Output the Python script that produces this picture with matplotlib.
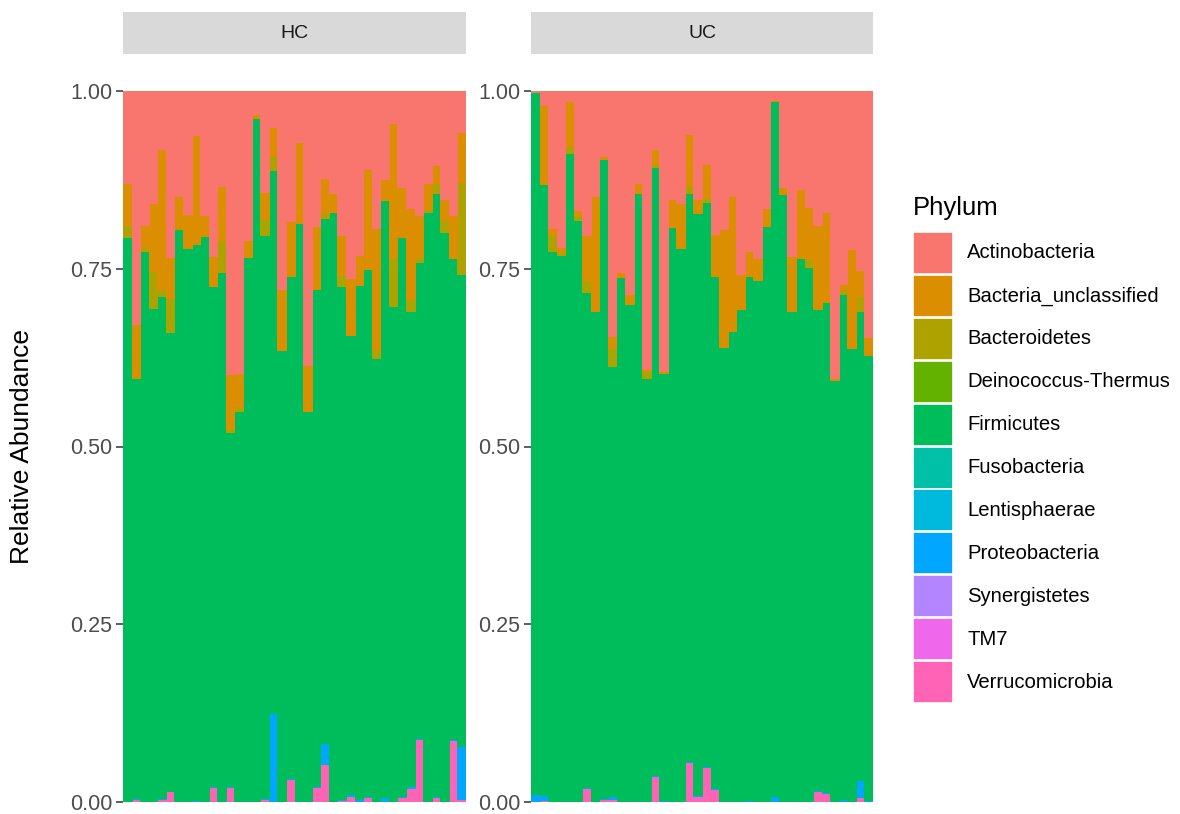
"""Stacked relative-abundance bars per sample, faceted by group (HC / UC)."""

import matplotlib.pyplot as plt
import numpy as np
from matplotlib.patches import Rectangle

plt.rcParams["font.family"] = ["Liberation Sans", "DejaVu Sans"]

PHYLA = [
    "Actinobacteria",
    "Bacteria_unclassified",
    "Bacteroidetes",
    "Deinococcus-Thermus",
    "Firmicutes",
    "Fusobacteria",
    "Lentisphaerae",
    "Proteobacteria",
    "Synergistetes",
    "TM7",
    "Verrucomicrobia",
]

# ggplot2 default hue palette for 11 levels
COLORS = [
    "#F8766D", "#DB8E00", "#AEA200", "#64B200", "#00BD5C", "#00C1A7",
    "#00BADE", "#00A6FF", "#B385FF", "#EF67EB", "#FF63B6",
]

# ---- HC samples (40) ----
hc_actino = [
    0.129, 0.328, 0.188, 0.157, 0.081, 0.233, 0.148, 0.173, 0.062, 0.174,
    0.232, 0.134, 0.398, 0.396, 0.210, 0.033, 0.142, 0.051, 0.278, 0.183,
    0.072, 0.385, 0.190, 0.122, 0.144, 0.203, 0.263, 0.230, 0.110, 0.193,
    0.124, 0.045, 0.135, 0.164, 0.174, 0.130, 0.104, 0.152, 0.175, 0.058,
]
hc_bact_uncl = [
    0.059, 0.075, 0.032, 0.096, 0.197, 0.058, 0.044, 0.048, 0.153, 0.030,
    0.042, 0.076, 0.078, 0.048, 0.024, 0.005, 0.038, 0.039, 0.086, 0.077,
    0.113, 0.065, 0.088, 0.049, 0.026, 0.056, 0.080, 0.043, 0.141, 0.171,
    0.029, 0.190, 0.071, 0.128, 0.059, 0.036, 0.026, 0.029, 0.060, 0.070,
]
hc_bacteroidetes = [
    0.017, 0.000, 0.005, 0.052, 0.011, 0.048, 0.002, 0.000, 0.000, 0.000,
    0.000, 0.045, 0.004, 0.006, 0.000, 0.000, 0.023, 0.021, 0.000, 0.000,
    0.000, 0.000, 0.000, 0.007, 0.000, 0.015, 0.000, 0.000, 0.000, 0.012,
    0.000, 0.067, 0.000, 0.018, 0.007, 0.004, 0.014, 0.017, 0.000, 0.129,
]
hc_firmicutes = [
    0.793, 0.591, 0.773, 0.693, 0.705, 0.645, 0.804, 0.777, 0.782, 0.795,
    0.704, 0.743, 0.498, 0.548, 0.764, 0.960, 0.791, 0.764, 0.635, 0.706,
    0.813, 0.549, 0.700, 0.739, 0.829, 0.722, 0.646, 0.723, 0.741, 0.623,
    0.840, 0.696, 0.786, 0.668, 0.670, 0.829, 0.848, 0.801, 0.677, 0.664,
]
hc_proteo = [
    0.002, 0.002, 0.002, 0.002, 0.002, 0.001, 0.002, 0.002, 0.001, 0.001,
    0.001, 0.002, 0.001, 0.002, 0.002, 0.002, 0.002, 0.123, 0.001, 0.002,
    0.002, 0.001, 0.001, 0.029, 0.001, 0.001, 0.002, 0.002, 0.001, 0.001,
    0.006, 0.001, 0.001, 0.002, 0.002, 0.001, 0.001, 0.001, 0.001, 0.075,
]
hc_verruco = [
    0.000, 0.004, 0.000, 0.000, 0.004, 0.015, 0.000, 0.000, 0.002, 0.000,
    0.021, 0.000, 0.021, 0.000, 0.000, 0.000, 0.004, 0.002, 0.000, 0.032,
    0.000, 0.000, 0.021, 0.054, 0.000, 0.003, 0.009, 0.002, 0.007, 0.000,
    0.001, 0.001, 0.007, 0.020, 0.088, 0.000, 0.007, 0.000, 0.087, 0.004,
]

# ---- UC samples (40) ----
uc_actino = [
    0.001, 0.020, 0.192, 0.220, 0.014, 0.168, 0.203, 0.148, 0.092, 0.344,
    0.255, 0.286, 0.130, 0.391, 0.081, 0.394, 0.152, 0.157, 0.060, 0.152,
    0.102, 0.201, 0.194, 0.147, 0.258, 0.225, 0.235, 0.164, 0.012, 0.135,
    0.232, 0.138, 0.163, 0.188, 0.170, 0.403, 0.272, 0.222, 0.252, 0.346,
]
uc_bact_uncl = [
    0.001, 0.111, 0.011, 0.008, 0.064, 0.006, 0.063, 0.162, 0.004, 0.018,
    0.006, 0.013, 0.013, 0.003, 0.022, 0.003, 0.039, 0.064, 0.072, 0.020,
    0.047, 0.059, 0.166, 0.190, 0.048, 0.035, 0.031, 0.026, 0.002, 0.010,
    0.077, 0.097, 0.073, 0.118, 0.127, 0.003, 0.006, 0.140, 0.037, 0.026,
]
uc_bacteroidetes = [
    0.000, 0.000, 0.022, 0.003, 0.009, 0.008, 0.017, 0.000, 0.000, 0.025,
    0.000, 0.000, 0.000, 0.009, 0.004, 0.000, 0.000, 0.000, 0.011, 0.000,
    0.007, 0.000, 0.000, 0.000, 0.000, 0.000, 0.000, 0.000, 0.000, 0.000,
    0.000, 0.000, 0.011, 0.000, 0.000, 0.000, 0.008, 0.000, 0.020, 0.000,
]
uc_firmicutes = [
    0.987, 0.859, 0.773, 0.767, 0.912, 0.817, 0.696, 0.689, 0.898, 0.605,
    0.738, 0.700, 0.855, 0.595, 0.855, 0.600, 0.808, 0.777, 0.799, 0.818,
    0.793, 0.721, 0.638, 0.661, 0.693, 0.737, 0.732, 0.808, 0.977, 0.853,
    0.689, 0.763, 0.751, 0.677, 0.689, 0.592, 0.710, 0.637, 0.660, 0.625,
]
uc_proteo = [
    0.009, 0.007, 0.002, 0.002, 0.001, 0.001, 0.002, 0.001, 0.002, 0.004,
    0.001, 0.001, 0.001, 0.001, 0.001, 0.001, 0.001, 0.001, 0.002, 0.002,
    0.002, 0.001, 0.002, 0.002, 0.001, 0.001, 0.001, 0.001, 0.007, 0.002,
    0.002, 0.002, 0.002, 0.001, 0.002, 0.002, 0.003, 0.001, 0.024, 0.002,
]
uc_verruco = [
    0.002, 0.003, 0.000, 0.000, 0.000, 0.000, 0.019, 0.000, 0.004, 0.004,
    0.000, 0.000, 0.001, 0.001, 0.037, 0.002, 0.000, 0.001, 0.056, 0.008,
    0.049, 0.018, 0.000, 0.000, 0.000, 0.002, 0.001, 0.001, 0.002, 0.000,
    0.000, 0.000, 0.000, 0.016, 0.012, 0.000, 0.001, 0.000, 0.007, 0.001,
]

GROUPS = {
    "HC": {
        "Actinobacteria": hc_actino,
        "Bacteria_unclassified": hc_bact_uncl,
        "Bacteroidetes": hc_bacteroidetes,
        "Firmicutes": hc_firmicutes,
        "Proteobacteria": hc_proteo,
        "Verrucomicrobia": hc_verruco,
    },
    "UC": {
        "Actinobacteria": uc_actino,
        "Bacteria_unclassified": uc_bact_uncl,
        "Bacteroidetes": uc_bacteroidetes,
        "Firmicutes": uc_firmicutes,
        "Proteobacteria": uc_proteo,
        "Verrucomicrobia": uc_verruco,
    },
}

W, H = 1180, 814
fig = plt.figure(figsize=(W / 100, H / 100), dpi=100)


def px_box(x0, y0, x1, y1):
    """Pixel box (top-left origin) -> figure-fraction rect."""
    return [x0 / W, 1 - y1 / H, (x1 - x0) / W, (y1 - y0) / H]


PANELS = {"HC": (123, 466), "UC": (531, 873)}
PANEL_TOP, PANEL_BOTTOM = 91, 802
STRIP_TOP, STRIP_BOTTOM = 12, 54

for group, (x0, x1) in PANELS.items():
    ax = fig.add_axes(px_box(x0, PANEL_TOP, x1, PANEL_BOTTOM))
    data = GROUPS[group]
    n = len(data["Firmicutes"])
    xs = np.arange(n)
    bottom = np.zeros(n)
    # ggplot stacks the first factor level on top, so draw from the last level up
    for phylum, color in reversed(list(zip(PHYLA, COLORS))):
        if phylum not in data:
            continue
        vals = np.array(data[phylum])
        ax.bar(xs, vals, bottom=bottom, width=1.0, color=color,
               edgecolor=color, linewidth=0.5, antialiased=False)
        bottom += vals

    ax.set_xlim(-0.5, n - 0.5)
    ax.set_ylim(0, 1)
    ax.set_xticks([])
    ax.set_yticks([0, 0.25, 0.5, 0.75, 1.0])
    ax.set_yticklabels(["0.00", "0.25", "0.50", "0.75", "1.00"])
    ax.tick_params(axis="y", length=5, width=1.1, color="#333333",
                   labelcolor="#4D4D4D", labelsize=15.5, pad=2.5)
    for side in ax.spines.values():
        side.set_visible(False)

    # facet strip
    strip = fig.add_axes(px_box(x0, STRIP_TOP, x1, STRIP_BOTTOM))
    strip.set_facecolor("#D9D9D9")
    strip.set_xticks([])
    strip.set_yticks([])
    for side in strip.spines.values():
        side.set_visible(False)
    strip.text(0.5, 0.48, group, ha="center", va="center",
               fontsize=14, color="#1A1A1A", transform=strip.transAxes)

fig.text(22 / W, 1 - 447 / H, "Relative Abundance", rotation=90,
         ha="center", va="center", fontsize=19, color="black")

# legend
fig.text(913 / W, 1 - 208 / H, "Phylum", ha="left", va="center",
         fontsize=18.5, color="black")
key_x, key_w, key_h, key_top, pitch = 913, 40, 42, 232, 42.9
for i, (phylum, color) in enumerate(zip(PHYLA, COLORS)):
    top = key_top + i * pitch
    fig.add_artist(Rectangle((key_x / W, 1 - (top + key_h) / H),
                             key_w / W, key_h / H, facecolor=color,
                             edgecolor="white", linewidth=1.2,
                             transform=fig.transFigure))
    fig.text(967 / W, 1 - (top + key_h / 2) / H, phylum, ha="left",
             va="center", fontsize=14.6, color="black")

fig.savefig("out.png", dpi=100, facecolor="white")
